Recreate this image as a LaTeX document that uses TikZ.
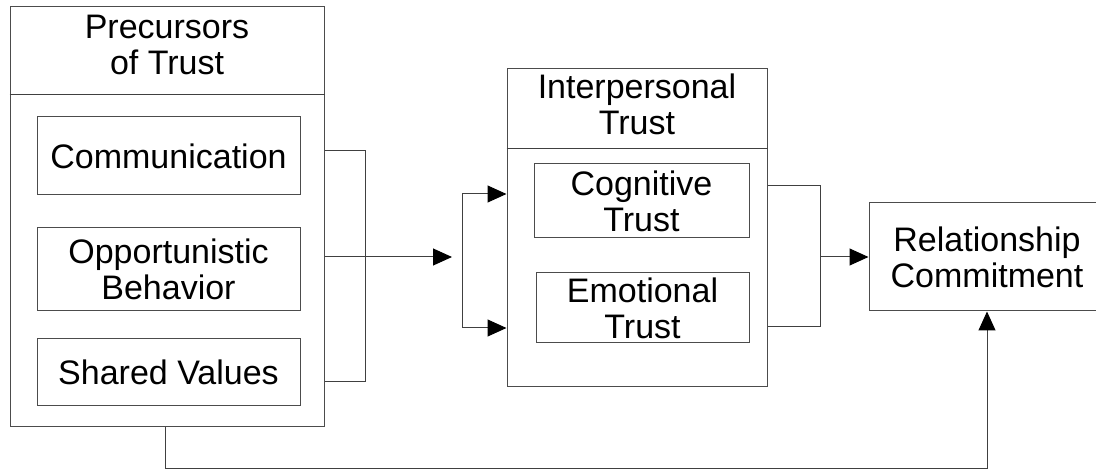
\documentclass[tikz,border=0pt]{standalone}
\usepackage{fontspec}
\setmainfont{Liberation Sans}
\usetikzlibrary{arrows.meta, positioning, calc}
\tikzset{
    box/.style={draw=black!70, line width=1pt, rectangle, inner sep=0pt, align=center,
        font=\fontsize{34}{36}\selectfont},
    title/.style={inner sep=0pt, align=center, font=\fontsize{34}{36}\selectfont},
    wire/.style={draw=black!75, line width=1pt},
    arr/.style={wire, -{Triangle[length=19pt,width=17pt,black]}}
}

\begin{document}
\begin{tikzpicture}[x=1pt, y=-1pt]
    \useasboundingbox (0,0) rectangle (1096,470);
    % precursors
    \node[box, minimum width=314pt, minimum height=420pt] (pre) at (167,217) {};
    \node[title] (preT) at (167,45) {Precursors\\of Trust};
    \draw[wire] (pre.west |- 0,95) -- (pre.east |- 0,95);
    \node[box, minimum width=263pt, minimum height=78pt] (comm) at (168.5,156) {Communication};
    \node[box, minimum width=263pt, minimum height=83pt] (opp) at (168.5,269.5) {Opportunistic\\Behavior};
    \node[box, minimum width=263pt, minimum height=67pt] (shv) at (168.5,372.5) {Shared Values};
    % interpersonal trust
    \node[box, minimum width=260pt, minimum height=318pt] (mid) at (637,228) {};
    \node[title] (midT) at (637,104) {Interpersonal\\Trust};
    \draw[wire] (mid.west |- 0,149) -- (mid.east |- 0,149);
    \node[box, minimum width=215pt, minimum height=74pt] (cog) at (641.5,201) {Cognitive\\Trust};
    \node[box, minimum width=213pt, minimum height=70pt] (emo) at (642.5,308) {Emotional\\Trust};
    % commitment
    \node[box, minimum width=236pt, minimum height=108pt] (rel) at (987,257) {Relationship\\Commitment};
    % connectors
    \coordinate (b1) at (365,151);
    \coordinate (b2) at (365,382);
    \coordinate (m1) at (452,257);
    \coordinate (f1) at (462,194);
    \coordinate (f2) at (462,328);
    \coordinate (r1) at (820,186);
    \coordinate (r2) at (820,327);
    \coordinate (lo) at (165,468);
    \draw[wire] (pre.east |- b1) -- (b1) -- (b2) -- (pre.east |- b2);
    \draw[arr] (pre.east |- m1) -- (m1);
    \draw[wire] (f1) -- (f2);
    \draw[arr] (f1) -- (mid.west |- f1);
    \draw[arr] (f2) -- (mid.west |- f2);
    \draw[wire] (mid.east |- r1) -- (r1) -- (r2) -- (mid.east |- r2);
    \draw[arr] (r1 |- rel.west) -- (rel.west);
    \draw[arr] (pre.south -| lo) -- (lo) -- (lo -| rel.south) -- (rel.south);
\end{tikzpicture}
\end{document}
